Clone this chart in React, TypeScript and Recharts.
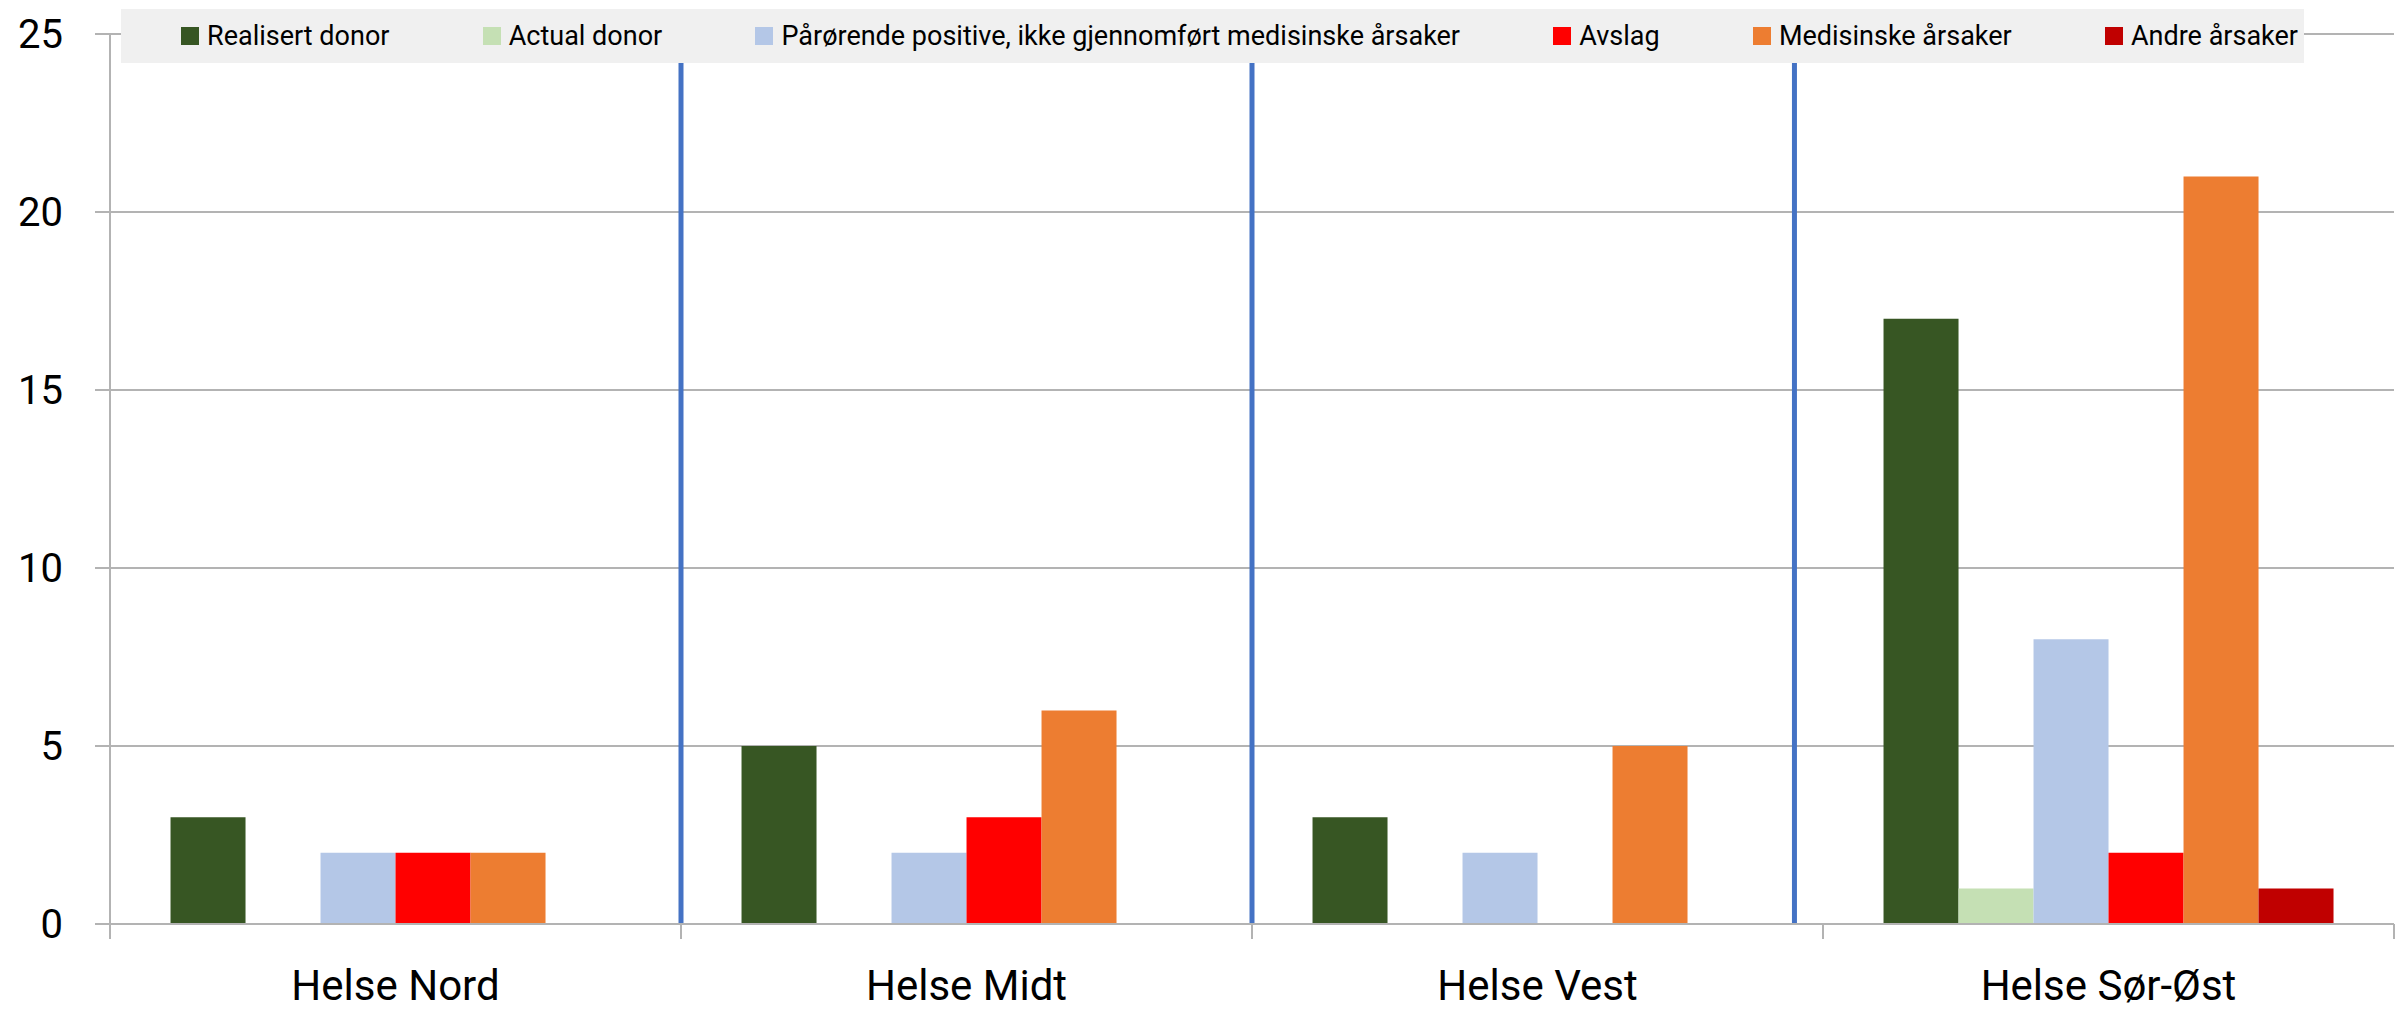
import React from "react";
import { BarChart, Bar, XAxis, YAxis, CartesianGrid, ReferenceLine, Legend } from "recharts";

const categories = ["Helse Nord", "Helse Midt", "Helse Vest", "Helse Sør-Øst"];
const realisert = [3, 5, 3, 17];
const actual = [0, 0, 0, 1];
const parorende = [2, 2, 2, 8];
const avslag = [2, 3, 0, 2];
const medisinske = [2, 6, 5, 21];
const andre = [0, 0, 0, 1];
const yTicks = [0, 5, 10, 15, 20, 25];
const dividers = [1, 2, 2.95];

const series = [
  { key: "realisert", name: "Realisert donor", color: "#375623", values: realisert },
  { key: "actual", name: "Actual donor", color: "#c5e0b4", values: actual },
  { key: "parorende", name: "Pårørende positive, ikke gjennomført medisinske årsaker", color: "#b4c7e7", values: parorende },
  { key: "avslag", name: "Avslag", color: "#ff0000", values: avslag },
  { key: "medisinske", name: "Medisinske årsaker", color: "#ed7d31", values: medisinske },
  { key: "andre", name: "Andre årsaker", color: "#c00000", values: andre },
];

// slot = centre of each category on the 0..4 helper axis
const data = categories.map((name, i) => {
  const row: Record<string, string | number> = { name, slot: i + 0.5 };
  series.forEach((s) => (row[s.key] = s.values[i]));
  return row;
});

const FONT = "Roboto, 'Noto Sans', sans-serif";
const GRID = "#b3b3b3";
const LABEL_GAP = 46;

// category label plus the tick marks on the category borders
function CategoryTick(props: any) {
  const { x, y, payload } = props;
  const half = payload.offset ?? 0;
  const base = y - LABEL_GAP;
  const last = payload.index === categories.length - 1;
  return (
    <g>
      <line x1={x - half} x2={x - half} y1={base} y2={base + 15} stroke={GRID} strokeWidth={2} />
      {last && <line x1={x + half} x2={x + half} y1={base} y2={base + 15} stroke={GRID} strokeWidth={2} />}
      <text x={x} y={y} dy="0.71em" textAnchor="middle" fill="#000" fontSize={42} fontFamily={FONT}>
        {payload.value}
      </text>
    </g>
  );
}

function LegendBox() {
  return (
    <div
      style={{
        display: "flex",
        alignItems: "center",
        justifyContent: "space-between",
        height: "100%",
        boxSizing: "border-box",
        padding: "0 6px 0 60px",
        background: "#f0f0f0",
        fontFamily: FONT,
        fontSize: 27,
        color: "#000",
      }}
    >
      {series.map((s) => (
        <div key={s.key} style={{ display: "flex", alignItems: "center", whiteSpace: "nowrap" }}>
          <span style={{ width: 18, height: 18, background: s.color, marginRight: 8, display: "inline-block" }} />
          {s.name}
        </div>
      ))}
    </div>
  );
}

export default function App() {
  return (
    <div style={{ position: "absolute", left: 0, top: 0, background: "#fff" }}>
      <BarChart
        width={2402}
        height={1010}
        data={data}
        margin={{ top: 34, right: 8, left: 0, bottom: 0 }}
        barCategoryGap="10.6%"
        barGap={0}
      >
        <CartesianGrid xAxisId="cat" vertical={false} stroke={GRID} strokeWidth={2} />
        <XAxis
          xAxisId="num"
          dataKey="slot"
          type="number"
          domain={[0, 4]}
          allowDataOverflow
          hide
          height={0}
        />
        <XAxis
          xAxisId="cat"
          dataKey="name"
          height={86}
          tickLine={false}
          tickSize={0}
          tickMargin={LABEL_GAP}
          interval={0}
          axisLine={{ stroke: GRID, strokeWidth: 2 }}
          tick={<CategoryTick />}
        />
        <YAxis
          width={110}
          domain={[0, 25]}
          ticks={yTicks}
          tickSize={15}
          tickMargin={32}
          tickLine={{ stroke: GRID, strokeWidth: 2 }}
          axisLine={{ stroke: GRID, strokeWidth: 2 }}
          tick={{ fill: "#000", fontSize: 40, fontFamily: FONT }}
        />
        {dividers.map((d) => (
          <ReferenceLine key={d} xAxisId="num" x={d} stroke="#4472c4" strokeWidth={5} />
        ))}
        {series.map((s) => (
          <Bar key={s.key} xAxisId="cat" dataKey={s.key} name={s.name} fill={s.color} isAnimationActive={false} />
        ))}
        <Legend
          layout="horizontal"
          verticalAlign="middle"
          align="center"
          content={() => <LegendBox />}
          wrapperStyle={{ position: "absolute", top: 9, left: 121, width: 2183, height: 54 }}
        />
      </BarChart>
    </div>
  );
}
